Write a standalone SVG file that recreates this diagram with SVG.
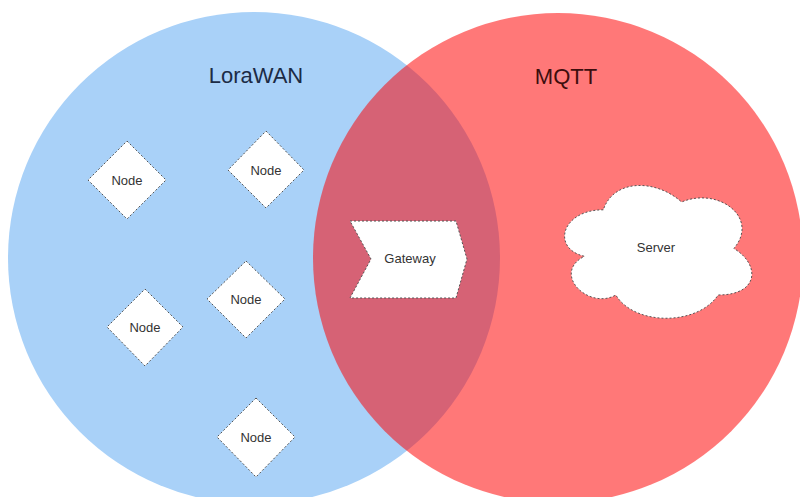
<svg xmlns="http://www.w3.org/2000/svg" width="800" height="497" viewBox="0 0 800 497">
  <style>
    .shape { fill: #ffffff; stroke: #555555; stroke-width: 1; stroke-dasharray: 2 2; }
    .lbl { font-family: "Liberation Sans", Arial, sans-serif; font-size: 13px; fill: #333333; text-anchor: middle; }
    .title { font-family: "Liberation Sans", Arial, sans-serif; font-size: 22px; text-anchor: middle; }
  </style>
  <rect width="800" height="497" fill="#ffffff"/>
  <g id="lorawan">
    <circle cx="254" cy="258" r="246" fill="#a9d1f8"/>
    <text class="title" x="256" y="83" fill="#1c2b45">LoraWAN</text>
  </g>
  <g id="mqtt">
    <circle cx="558" cy="258" r="245" fill="#ff0000" fill-opacity="0.53"/>
    <text class="title" x="566" y="84" fill="#3d0d0d">MQTT</text>
  </g>
  <g id="connectors"></g>
  <g id="node1">
    <polygon class="shape" points="127,141 166,180 127,219 88,180"/>
    <text class="lbl" x="127" y="185">Node</text>
  </g>
  <g id="node2">
    <polygon class="shape" points="266,131 304,170 266,208 228,170"/>
    <text class="lbl" x="266" y="175">Node</text>
  </g>
  <g id="node3">
    <polygon class="shape" points="145,289 183,327 145,366 107,327"/>
    <text class="lbl" x="145" y="332">Node</text>
  </g>
  <g id="node4">
    <polygon class="shape" points="246,261 285,299 246,338 207,299"/>
    <text class="lbl" x="246" y="304">Node</text>
  </g>
  <g id="node5">
    <polygon class="shape" points="256,398 295,437 256,477 217,437"/>
    <text class="lbl" x="256" y="442">Node</text>
  </g>
  <g id="gateway">
    <polygon class="shape" points="350,221 456,221 467,259 456,298 350,298 371,259"/>
    <text class="lbl" x="410" y="263">Gateway</text>
  </g>
  <g id="server">
    <path class="shape" d="M 603.3,209.8 C 561.5,209.8 551,248.5 584.4,256.3 C 551,273.3 588.6,310.5 615.8,295 C 634.6,326 697.3,326 718.2,295 C 760,295 760,264 733.9,248.5 C 760,217.5 718.2,186.5 681.6,202 C 655.5,178.8 613.7,178.8 603.3,209.8 Z"/>
    <text class="lbl" x="656" y="252">Server</text>
  </g>
</svg>
